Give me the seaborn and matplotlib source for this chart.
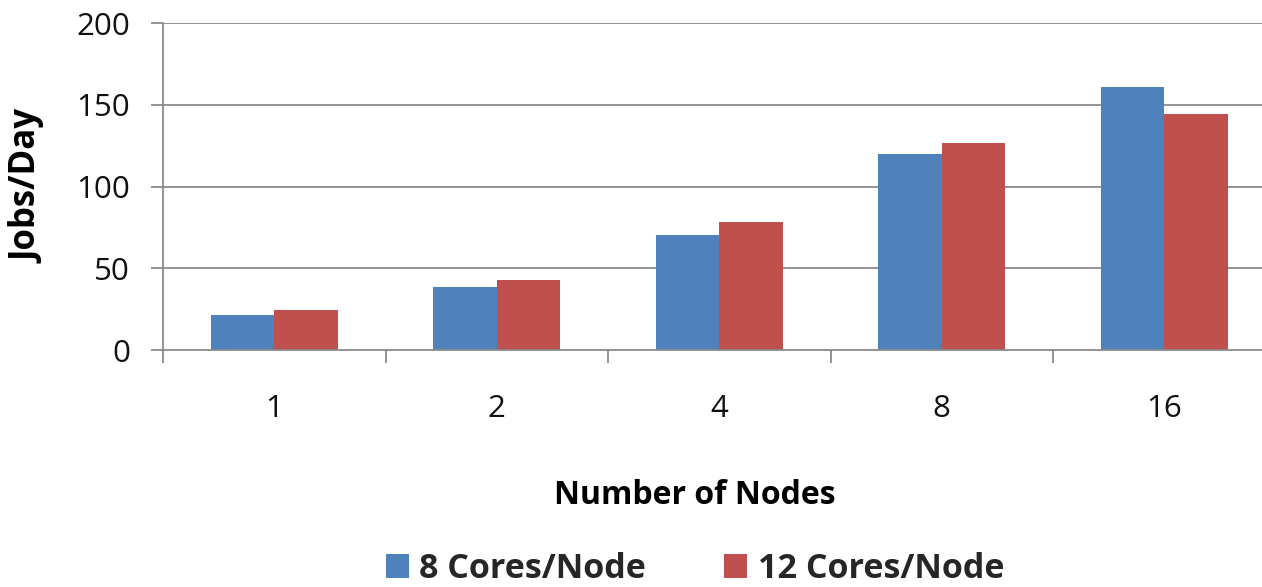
import matplotlib
matplotlib.use("Agg")
import matplotlib.pyplot as plt
import seaborn as sns
import pandas as pd
from matplotlib.patches import Patch
from matplotlib.ticker import FixedLocator

nodes = ["1", "2", "4", "8", "16"]
cores8 = [21.2, 38.7, 70.2, 120.0, 160.8]
cores12 = [24.3, 42.8, 78.3, 126.5, 144.2]
series = ["8 Cores/Node", "12 Cores/Node"]
colors = ["#4F81BD", "#C0504D"]
y_ticks = [0, 50, 100, 150, 200]

df = pd.DataFrame({
    "Nodes": nodes * 2,
    "Jobs": cores8 + cores12,
    "Series": [series[0]] * len(nodes) + [series[1]] * len(nodes),
})

sns.set_theme(style="white")
plt.rcParams["font.family"] = ["Open Sans", "DejaVu Sans"]

W, H = 1262, 587
fig = plt.figure(figsize=(W / 100, H / 100), dpi=100)
left, right, top, bottom = 163, 1275.5, 23.3, 350
ax = fig.add_axes([left / W, 1 - bottom / H, (right - left) / W, (bottom - top) / H])

sns.barplot(data=df, x="Nodes", y="Jobs", hue="Series", order=nodes,
            hue_order=series, palette=colors, width=0.57, gap=0,
            saturation=1, ax=ax, legend=False, edgecolor="none")

grid_c = "#8a8a8a"
lw = 1.3
ax.set_ylim(0, 200)
ax.set_xlim(-0.5, len(nodes) - 0.5)
ax.set_yticks(y_ticks)
ax.set_yticklabels([str(v) for v in y_ticks])
for v in y_ticks[1:]:
    ax.axhline(v, color=grid_c, lw=lw, zorder=0)
ax.set_axisbelow(True)

for s in ["top", "right"]:
    ax.spines[s].set_visible(False)
for s in ["left", "bottom"]:
    ax.spines[s].set_color(grid_c)
    ax.spines[s].set_linewidth(lw)

ax.tick_params(axis="y", direction="out", length=8.6, width=lw, color=grid_c,
               labelsize=22.5, labelcolor="#111111", pad=15, left=True)
ax.tick_params(axis="x", which="major", length=0, labelsize=22.5,
               labelcolor="#111111", pad=32)
ax.xaxis.set_minor_locator(FixedLocator([i - 0.5 for i in range(len(nodes) + 1)]))
ax.tick_params(axis="x", which="minor", direction="out", length=9.4, width=lw,
               color=grid_c, bottom=True)

ax_w = right - left
ax_h = bottom - top
ax.set_ylabel("Jobs/Day", fontsize=25, fontweight="bold", color="black")
ax.yaxis.set_label_coords((47 - left) / ax_w, 0.5)
ax.set_xlabel("Number of Nodes", fontsize=23, fontweight="bold", color="black")
ax.xaxis.set_label_coords((695 - left) / ax_w, -(479 - bottom) / ax_h)

handles = [Patch(facecolor=c, edgecolor="none") for c in colors]
fig.legend(handles, series, loc="center", bbox_to_anchor=(695 / W, 1 - 569 / H),
           ncol=2, frameon=False, prop={"size": 24.5, "weight": "bold"},
           handlelength=0.68, handleheight=0.68, handletextpad=0.3, columnspacing=2.3)

fig.savefig("out.png", dpi=100)
